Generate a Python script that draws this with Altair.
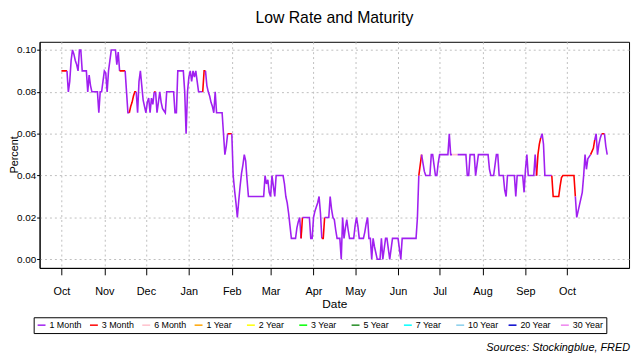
import altair as alt
import pandas as pd

title_text = "Low Rate and Maturity"
source_text = "Sources: Stockingblue, FRED"
y_title = "Percent"
start_date = "2020-10-01"

# days since 2020-10-01 and the lowest rate (percent)
day_offset = [
    0, 4, 5, 6, 7, 8, 9, 10, 11, 12, 13, 14, 15, 18, 19, 20, 21, 22, 26, 27, 28, 29, 30,
    31, 32, 33, 34, 35, 36, 39, 40, 41, 42, 46, 47, 48, 49, 50, 51, 52, 53, 54, 55,
    56, 57, 58, 59, 60, 61, 62, 63, 64, 65, 66, 67, 68, 69, 70, 71, 72, 73, 75, 76, 81,
    82, 83, 84, 88, 89, 90, 91, 92, 93, 94, 95, 96, 97, 98, 99, 102, 103, 104, 105, 106,
    107, 108, 109, 110, 111, 112, 116, 117, 118, 119, 120, 123, 124, 125, 126,
    127, 128, 129, 130, 131, 132, 133, 134, 135, 146, 147, 148, 149, 150, 151, 152, 153,
    154, 155, 160, 161, 162, 163, 164, 165, 166, 169, 170, 171, 172, 173, 174, 179, 180,
    181, 182, 183, 184, 185, 186, 187, 188, 189, 190, 193, 194, 195, 196, 197,
    198, 199, 201, 202, 203, 204, 205, 206, 207, 208, 211, 212, 213, 214, 215, 218, 219,
    220, 221, 222, 223, 224, 225, 226, 227, 228, 230, 231, 232, 233, 234, 235, 236, 237,
    238, 239, 243, 244, 245, 246, 256, 257, 258, 259, 260, 261, 262, 263, 266, 267, 268,
    269, 270, 271, 272, 273, 279, 280, 281, 282, 286, 292, 293, 294, 295, 298, 299, 300,
    301, 308, 309, 310, 312, 313, 314, 315, 316, 319, 320, 321, 322, 327, 328, 329, 333,
    334, 335, 336, 337, 341,
    342, 343, 344, 345, 346, 347, 348, 349, 354, 355, 359, 360, 361, 362, 370, 371, 372,
    373, 374, 375, 376, 377, 378, 379, 380, 382, 384, 385, 386, 387, 388, 389, 390, 392,
    393, 394,
]
low_rate = [
    0.09, 0.09, 0.08, 0.085, 0.095, 0.10, 0.098, 0.095, 0.093, 0.09, 0.10, 0.10, 0.09, 0.09, 0.08, 0.088, 0.083, 0.08, 0.08, 0.07, 0.08, 0.08, 0.085,
    0.09, 0.089, 0.08, 0.09, 0.095, 0.10, 0.10, 0.093, 0.099, 0.09, 0.09, 0.08, 0.07, 0.07, 0.073, 0.075, 0.078, 0.08, 0.08, 0.07,
    0.085, 0.09, 0.083, 0.076, 0.073, 0.07, 0.075, 0.077, 0.07, 0.077, 0.074, 0.08, 0.08, 0.07, 0.075, 0.08, 0.075, 0.072, 0.07, 0.08, 0.08,
    0.07, 0.07, 0.09, 0.09, 0.08, 0.06, 0.08, 0.087, 0.09, 0.085, 0.09, 0.087, 0.09, 0.085, 0.08, 0.08, 0.09, 0.09, 0.083, 0.08,
    0.078, 0.075, 0.073, 0.07, 0.08, 0.07, 0.07, 0.06, 0.05, 0.054, 0.06, 0.06, 0.04, 0.033, 0.027,
    0.02, 0.028, 0.035, 0.041, 0.045, 0.05, 0.047, 0.038, 0.03, 0.03, 0.04, 0.036, 0.038, 0.032, 0.03, 0.04, 0.035,
    0.03, 0.04, 0.04, 0.036, 0.03, 0.027, 0.022, 0.016, 0.01, 0.01, 0.015, 0.018, 0.02, 0.01, 0.02, 0.02, 0.01,
    0.01, 0.02, 0.023, 0.025, 0.027, 0.03, 0.022, 0.01, 0.01, 0.02, 0.02, 0.03, 0.024, 0.02, 0.019,
    0.014, 0.01, 0.01, 0.00, 0.02, 0.01, 0.015, 0.019, 0.014, 0.01, 0.01, 0.016, 0.02, 0.016, 0.01, 0.01, 0.013,
    0.017, 0.02, 0.01, 0.01, 0.00, 0.01, 0.006, 0.003, 0.00, 0.00, 0.01, 0.00, 0.005, 0.01, 0.01, 0.005, 0.00,
    0.005, 0.01, 0.01, 0.005, 0.00, 0.01, 0.01, 0.02, 0.04, 0.045, 0.05, 0.046, 0.042, 0.04, 0.04, 0.05, 0.05,
    0.045, 0.04, 0.04, 0.046, 0.05, 0.05, 0.06, 0.05, 0.05, 0.05, 0.05, 0.04, 0.04, 0.05, 0.05, 0.04, 0.045,
    0.05, 0.05, 0.043, 0.04, 0.04, 0.045, 0.05, 0.05, 0.04, 0.04, 0.033, 0.03, 0.04, 0.04, 0.03, 0.04, 0.04,
    0.032, 0.043, 0.05, 0.04, 0.04,
    0.05, 0.04, 0.05, 0.055, 0.058, 0.06, 0.055, 0.04, 0.04, 0.03, 0.03, 0.035, 0.039, 0.04, 0.04, 0.03, 0.02,
    0.023, 0.026, 0.029, 0.032, 0.04, 0.05, 0.043, 0.048, 0.05, 0.053, 0.057, 0.06, 0.05, 0.055, 0.058, 0.06, 0.06,
    0.054, 0.05,
]
# day ranges in which another maturity carried the low rate
three_month_spans = [(0, 4), (42, 46), (49, 54), (67, 68), (102, 104), (120, 123), (173, 174),
                     (188, 190), (258, 260), (343, 346), (354, 371), (382, 385), (390, 392)]
six_month_spans = [(282, 286)]

maturities = ["1 Month", "3 Month", "6 Month", "1 Year", "2 Year", "3 Year",
              "5 Year", "7 Year", "10 Year", "20 Year", "30 Year"]
maturity_colors = ["#A020F0", "#FF0000", "#FFC0CB", "#FFA500", "#FFFF00", "#00FF00",
                   "#228B22", "#00FFFF", "#87CEEB", "#0000CD", "#EE82EE"]

month_ticks = ["2020-10-01", "2020-11-01", "2020-12-01", "2021-01-01", "2021-02-01",
               "2021-03-01", "2021-04-01", "2021-05-01", "2021-06-01", "2021-07-01",
               "2021-08-01", "2021-09-01", "2021-10-01"]
y_ticks = [0.00, 0.02, 0.04, 0.06, 0.08, 0.10]


def maturity_at(d):
    for a, b in three_month_spans:
        if a <= d < b:
            return "3 Month"
    for a, b in six_month_spans:
        if a <= d < b:
            return "6 Month"
    return "1 Month"


base = pd.Timestamp(start_date)


def iso(d):
    return (base + pd.Timedelta(days=d)).strftime("%Y-%m-%d")


rows = []
seg = 0
cur = None
k = 0
for i in range(len(day_offset) - 1):
    m = maturity_at(day_offset[i])
    if m != cur:
        seg += 1
        cur = m
        rows.append({"date": iso(day_offset[i]), "rate": low_rate[i], "maturity": m, "seg": seg, "k": k})
        k += 1
    rows.append({"date": iso(day_offset[i + 1]), "rate": low_rate[i + 1], "maturity": m, "seg": seg, "k": k})
    k += 1
df = pd.DataFrame(rows)


def ms(ts):
    return int(pd.Timestamp(ts, tz="UTC").value // 10**6)


span_days = day_offset[-1] - day_offset[0]
pad_days = 0.04 * span_days
x_domain = [ms(base - pd.Timedelta(days=pad_days)), ms(base + pd.Timedelta(days=day_offset[-1] + pad_days))]
tick_ms = [ms(t) for t in month_ticks]

FONT = "Liberation Sans"

line = alt.Chart(df).mark_line(strokeWidth=1.6, clip=True).encode(
    x=alt.X("date:T",
            scale=alt.Scale(type="utc", domain=x_domain),
            axis=alt.Axis(values=tick_ms, format="%b", title="Date", grid=True,
                          labelFontSize=11, titleFontSize=12, labelPadding=11,
                          titlePadding=2, tickSize=7)),
    y=alt.Y("rate:Q",
            scale=alt.Scale(domain=[-0.0041, 0.1039], nice=False, zero=False),
            axis=alt.Axis(values=y_ticks, format=".2f", title=None, grid=True,
                          labelFontSize=10, labelPadding=1, tickSize=3)),
    color=alt.Color("maturity:N",
                    scale=alt.Scale(domain=maturities, range=maturity_colors),
                    legend=alt.Legend(orient="none", legendX=-6, legendY=279,
                                      direction="horizontal", columns=11, gridAlign="all",
                                      symbolType="stroke", symbolSize=64, symbolStrokeWidth=1.5,
                                      labelFontSize=9, labelFont=FONT, labelOffset=3,
                                      labelColor="black",
                                      columnPadding=5, padding=3, strokeColor="black",
                                      title=None)),
    detail="seg:N",
    order="k:Q",
)

ytitle = alt.Chart(pd.DataFrame({"label": [y_title]})).mark_text(
    align="center", baseline="middle", angle=270, font=FONT, fontSize=11, color="black"
).encode(text="label:N", x=alt.value(-25), y=alt.value(114.5))

source = alt.Chart(pd.DataFrame({"label": [source_text]})).mark_text(
    align="right", baseline="middle", fontStyle="italic", font=FONT, fontSize=11, color="black"
).encode(text="label:N", x=alt.value(598), y=alt.value(310))

chart = alt.layer(line, ytitle, source).properties(
    width=597,
    height=229,
    autosize=alt.AutoSizeParams(type="none"),
    padding={"left": 32, "top": 32, "right": 3, "bottom": 87},
    title=alt.TitleParams(title_text, fontSize=16, font=FONT, fontWeight="normal",
                          anchor="middle", offset=16, color="black"),
).configure_view(stroke="black", strokeWidth=1).configure_axis(
    labelFont=FONT, titleFont=FONT, labelColor="black", titleColor="black",
    titleFontWeight="normal", domainColor="black", tickColor="black",
    gridColor="#BEBEBE", gridDash=[2, 3], gridWidth=1,
)

chart.save("out.html", embed_options={"renderer": "svg", "actions": False})
